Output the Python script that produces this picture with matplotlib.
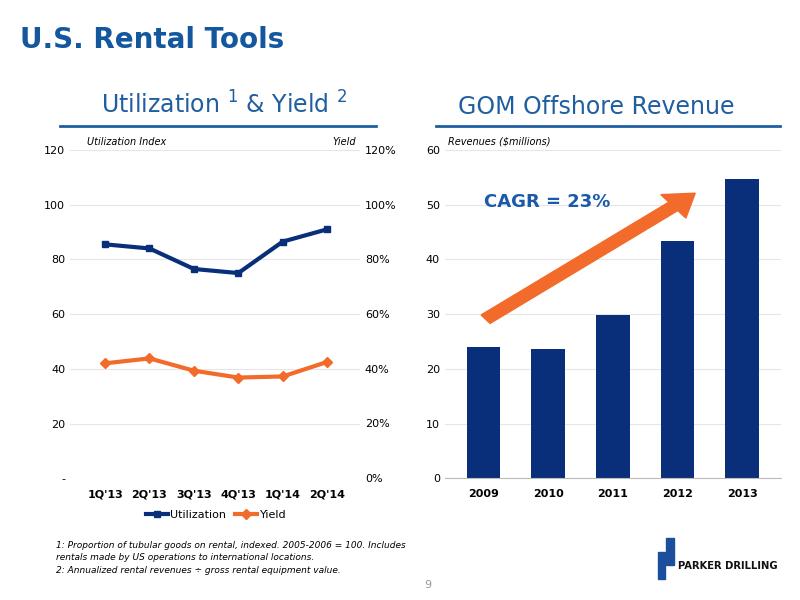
import matplotlib.pyplot as plt
from matplotlib.patches import FancyArrow, Rectangle
from matplotlib.ticker import FuncFormatter

plt.rcParams['font.family'] = ['DejaVu Sans']

quarters = ["1Q'13", "2Q'13", "3Q'13", "4Q'13", "1Q'14", "2Q'14"]
utilization = [85.5, 84.0, 76.5, 75.0, 86.5, 91.0]
yield_pct = [42.0, 43.8, 39.3, 36.8, 37.2, 42.5]

years = ['2009', '2010', '2011', '2012', '2013']
revenue = [24.0, 23.7, 29.8, 43.3, 54.7]

blue = '#0a2f7a'
orange = '#f26b2a'
title_blue = '#1f5fa0'

fig = plt.figure(figsize=(8, 6), dpi=100)
fig.text(0.025, 0.92, 'U.S. Rental Tools', fontsize=20, fontweight='bold', color='#13579e')

# ---- left chart
ax = fig.add_axes([0.0875, 0.203, 0.3625, 0.547])
x = range(len(quarters))
ax.plot(x, utilization, color=blue, lw=3, marker='s', ms=5, label='Utilization')
ax.set_ylim(0, 120)
ax.set_yticks(range(0, 121, 20))
ax.yaxis.set_major_formatter(FuncFormatter(lambda v, p: '-' if v == 0 else f'{int(v)}'))
ax.set_xlim(-0.79, 5.74)
ax.set_xticks(list(x))
ax.set_xticklabels(quarters, fontweight='bold', fontsize=8)
ax2 = ax.twinx()
ax2.plot(x, yield_pct, color=orange, lw=3, marker='D', ms=5, label='Yield')
ax2.set_ylim(0, 120)
ax2.set_yticks(range(0, 121, 20))
ax2.set_yticklabels([f'{v}%' for v in range(0, 121, 20)])
for a in (ax, ax2):
    for s in a.spines.values():
        s.set_visible(False)
    a.tick_params(length=0, labelsize=8)
ax.tick_params(axis='x', pad=8)
ax.grid(axis='y', color='#e6e6e6', lw=0.8)
ax.set_axisbelow(True)
ax.text(-0.4, 122, 'Utilization Index', fontsize=7, style='italic')
ax.text(5.65, 122, 'Yield', fontsize=7, style='italic', ha='right')
h1, l1 = ax.get_legend_handles_labels()
h2, l2 = ax2.get_legend_handles_labels()
fig.legend(h1 + h2, l1 + l2, loc='center', bbox_to_anchor=(0.27, 0.142), ncol=2,
           frameon=False, fontsize=8, handlelength=2, columnspacing=0.8, handletextpad=0.2)

fig.text(0.28, 0.81, 'Utilization $^{1}$ & Yield $^{2}$', fontsize=17, color=title_blue, ha='center')
fig.add_artist(plt.Line2D([0.075, 0.47], [0.79, 0.79], color=title_blue, lw=2))

# ---- right chart
bx = fig.add_axes([0.556, 0.203, 0.42, 0.547])
bx.bar(years, revenue, width=0.52, color=blue)
bx.set_ylim(0, 60)
bx.set_yticks(range(0, 61, 10))
bx.set_xlim(-0.6, 4.6)
bx.grid(axis='y', color='#e6e6e6', lw=0.8)
bx.set_axisbelow(True)
for s in ['top', 'right', 'left']:
    bx.spines[s].set_visible(False)
bx.spines['bottom'].set_color('#bbbbbb')
bx.tick_params(axis='y', length=0, labelsize=8)
bx.tick_params(axis='x', length=0, labelsize=8, pad=8)
for t in bx.get_xticklabels():
    t.set_fontweight('bold')
bx.text(-0.55, 61, 'Revenues ($millions)', fontsize=7, style='italic')
bx.text(0.0, 49.5, 'CAGR = 23%', fontsize=13, fontweight='bold', color='#1a5aa8')

fig.text(0.745, 0.81, 'GOM Offshore Revenue', fontsize=17, color=title_blue, ha='center')
fig.add_artist(plt.Line2D([0.545, 0.975], [0.79, 0.79], color=title_blue, lw=2))

fig.add_artist(FancyArrow(0.607, 0.468, 0.262, 0.21, width=0.018, head_width=0.05,
                          head_length=0.035, color=orange, transform=fig.transFigure,
                          length_includes_head=True))

# ---- footnotes
fig.text(0.07, 0.045, '1: Proportion of tubular goods on rental, indexed. 2005-2006 = 100. Includes\n'
         'rentals made by US operations to international locations.\n'
         '2: Annualized rental revenues \u00f7 gross rental equipment value.',
         fontsize=6.5, style='italic', linespacing=1.5)
fig.text(0.535, 0.02, '9', fontsize=8, color='#999999', ha='center')

# logo
fig.add_artist(Rectangle((0.822, 0.035), 0.009, 0.045, color='#1b4f9c', transform=fig.transFigure))
fig.add_artist(Rectangle((0.833, 0.058), 0.009, 0.045, color='#1b4f9c', transform=fig.transFigure))
fig.text(0.848, 0.052, 'PARKER DRILLING', fontsize=8, fontweight='bold', color='#111111',
         stretch='condensed')

fig.savefig('out.png', dpi=100)
